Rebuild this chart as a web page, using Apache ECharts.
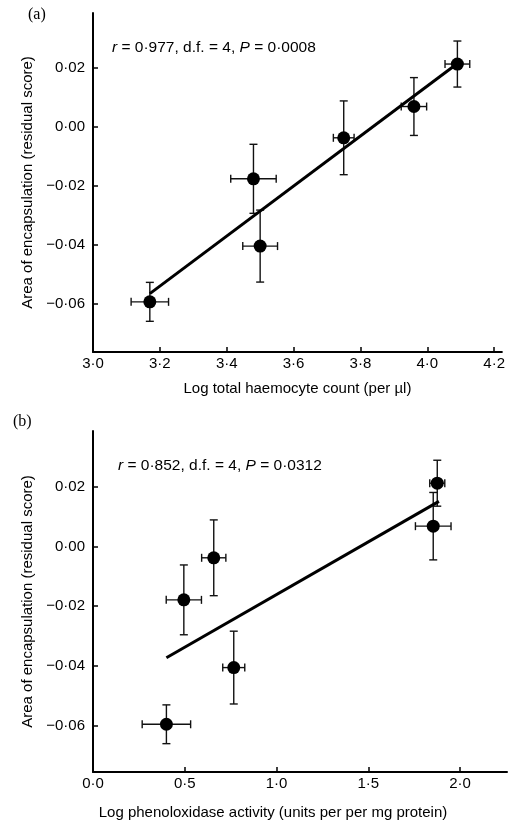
<!DOCTYPE html>
<html>
<head>
<meta charset="utf-8">
<script src="https://cdn.jsdelivr.net/npm/echarts@6/dist/echarts.min.js"></script>
<style>
  html, body { margin: 0; padding: 0; background: #fff; }
  #chart { width: 508px; height: 821px; }
</style>
</head>
<body>
<div id="chart"></div>
<script>
// panel (a): haemocyte count vs encapsulation
const haemX = [3.17, 3.48, 3.50, 3.75, 3.96, 4.09];
const haemY = [-0.0593, -0.0176, -0.0404, -0.0037, 0.0069, 0.0213];
const haemXErr = [0.056, 0.068, 0.052, 0.031, 0.038, 0.037];
const haemYErr = [0.0066, 0.0117, 0.0122, 0.0125, 0.0098, 0.0078];
const haemFitX = [3.17, 4.09];
const haemFitY = [-0.0565, 0.0215];
const haemTicks = [3.0, 3.2, 3.4, 3.6, 3.8, 4.0, 4.2];

// panel (b): phenoloxidase vs encapsulation
const poX = [1.876, 1.854, 0.658, 0.495, 0.767, 0.40];
const poY = [0.0212, 0.0068, -0.0038, -0.0179, -0.0406, -0.0596];
const poXErr = [0.041, 0.097, 0.066, 0.096, 0.06, 0.132];
const poYErr = [0.0077, 0.0113, 0.0127, 0.0117, 0.0122, 0.0065];
const poFitX = [0.40, 1.885];
const poFitY = [-0.0373, 0.0151];
const poTicks = [0, 0.5, 1.0, 1.5, 2.0];

const yTicks = [-0.06, -0.04, -0.02, 0, 0.02];

const FONT = '"Liberation Sans", Arial, Helvetica, sans-serif';

function fmt(d) {
  return (v) => Number(v).toFixed(d).replace('.', '·').replace('-', '−');
}

function errData(xs, ys, xe, ye) {
  return xs.map((x, i) => [x, ys[i], xe[i], ye[i]]);
}

function renderErr(params, api) {
  const x = api.value(0), y = api.value(1), xe = api.value(2), ye = api.value(3);
  const top = api.coord([x, y + ye]);
  const bot = api.coord([x, y - ye]);
  const lft = api.coord([x - xe, y]);
  const rgt = api.coord([x + xe, y]);
  const c = 4;
  const st = { stroke: '#111', lineWidth: 1.4 };
  const seg = (x1, y1, x2, y2) => ({ type: 'line', shape: { x1, y1, x2, y2 }, style: st });
  return {
    type: 'group',
    children: [
      seg(top[0], top[1], bot[0], bot[1]),
      seg(top[0] - c, top[1], top[0] + c, top[1]),
      seg(bot[0] - c, bot[1], bot[0] + c, bot[1]),
      seg(lft[0], lft[1], rgt[0], rgt[1]),
      seg(lft[0], lft[1] - c, lft[0], lft[1] + c),
      seg(rgt[0], rgt[1] - c, rgt[0], rgt[1] + c)
    ]
  };
}

function xAxisCfg(idx, min, max, ticks, dec, name, gap, pad) {
  return {
    type: 'value', gridIndex: idx, min, max,
    name, nameLocation: 'middle', nameGap: gap,
    nameTextStyle: { fontFamily: FONT, fontSize: 15, color: '#000', padding: pad },
    splitLine: { show: false },
    axisLine: { onZero: false, lineStyle: { color: '#000', width: 2 } },
    axisTick: { inside: true, length: 5, customValues: ticks, lineStyle: { color: '#000', width: 1.5 } },
    axisLabel: { customValues: ticks, formatter: fmt(dec), fontFamily: FONT, fontSize: 15, color: '#000', margin: 4 }
  };
}

function yAxisCfg(idx, min, max) {
  return {
    type: 'value', gridIndex: idx, min, max,
    name: 'Area of encapsulation (residual score)', nameLocation: 'middle', nameGap: 56,
    nameTextStyle: { fontFamily: FONT, fontSize: 15, color: '#000' },
    splitLine: { show: false },
    axisLine: { onZero: false, lineStyle: { color: '#000', width: 2 } },
    axisTick: { inside: true, length: 5, customValues: yTicks, lineStyle: { color: '#000', width: 1.5 } },
    axisLabel: { customValues: yTicks, formatter: fmt(2), fontFamily: FONT, fontSize: 15, color: '#000', margin: 8 }
  };
}

function panelSeries(idx, xs, ys, xe, ye, fx, fy) {
  return [
    {
      type: 'custom', xAxisIndex: idx, yAxisIndex: idx,
      renderItem: renderErr, data: errData(xs, ys, xe, ye), z: 2, silent: true
    },
    {
      type: 'line', xAxisIndex: idx, yAxisIndex: idx,
      data: fx.map((x, i) => [x, fy[i]]), showSymbol: false,
      lineStyle: { color: '#000', width: 3 }, z: 3, silent: true
    },
    {
      type: 'scatter', xAxisIndex: idx, yAxisIndex: idx,
      data: xs.map((x, i) => [x, ys[i]]), symbolSize: 13,
      itemStyle: { color: '#000', opacity: 1 }, z: 4, silent: true
    }
  ];
}

function stat(left, top, r, p) {
  return {
    type: 'text', left, top,
    style: {
      text: '{i|r} = ' + r + ', d.f. = 4, {i|P} = ' + p,
      font: '15.5px ' + FONT, fill: '#000',
      rich: { i: { fontStyle: 'italic', fontFamily: FONT, fontSize: 15.5, fill: '#000' } }
    }
  };
}

const chart = echarts.init(document.getElementById('chart'));
chart.setOption({
  animation: false,
  backgroundColor: '#fff',
  grid: [
    { left: 93, top: 13, width: 412, height: 339 },
    { left: 93, top: 431, width: 414, height: 341 }
  ],
  xAxis: [
    xAxisCfg(0, 3.0, 4.223, haemTicks, 1, 'Log total haemocyte count (per µl)', 29, [0, 0, 0, 0]),
    xAxisCfg(1, 0, 2.256, poTicks, 1, 'Log phenoloxidase activity (units per per mg protein)', 33, [0, 54, 0, 0])
  ],
  yAxis: [
    yAxisCfg(0, -0.0763, 0.0386),
    yAxisCfg(1, -0.0756, 0.0387)
  ],
  graphic: [
    { type: 'text', left: 28, top: 7, style: { text: '(a)', font: '16px "Liberation Serif", "Times New Roman", serif', fill: '#000' } },
    { type: 'text', left: 13, top: 414, style: { text: '(b)', font: '16px "Liberation Serif", "Times New Roman", serif', fill: '#000' } },
    stat(112, 40, '0·977', '0·0008'),
    stat(118, 458, '0·852', '0·0312')
  ],
  series: [].concat(
    panelSeries(0, haemX, haemY, haemXErr, haemYErr, haemFitX, haemFitY),
    panelSeries(1, poX, poY, poXErr, poYErr, poFitX, poFitY)
  )
});
</script>
</body>
</html>
